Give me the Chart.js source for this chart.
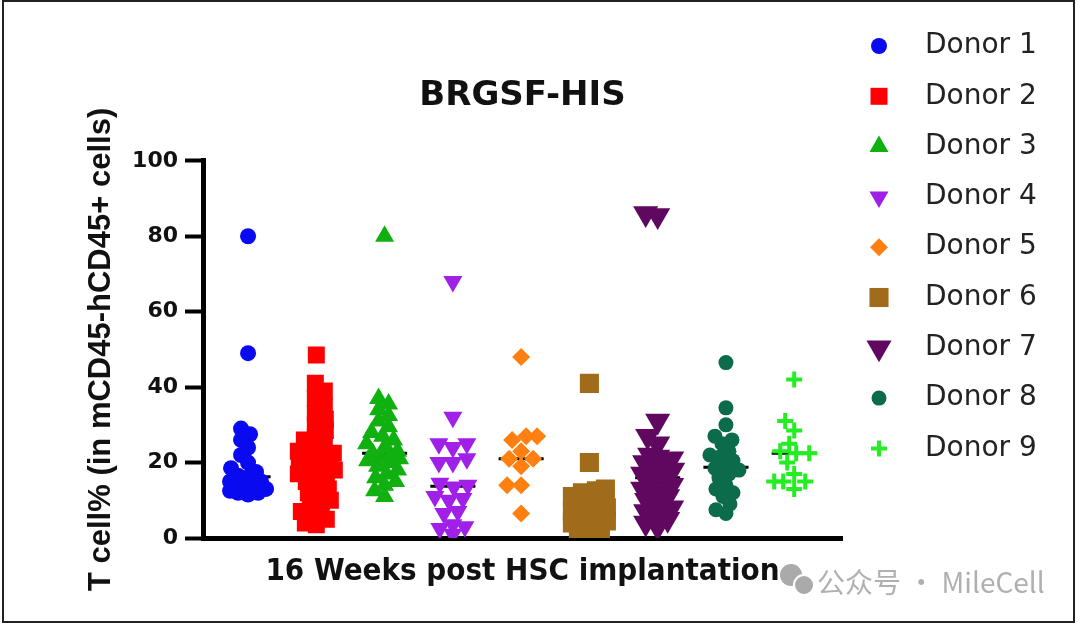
<!DOCTYPE html>
<html>
<head>
<meta charset="utf-8">
<script src="https://cdn.jsdelivr.net/npm/chart.js@4.4.1/dist/chart.umd.min.js"></script>
<style>
  html, body { margin: 0; padding: 0; background: #fff; }
  #wrap { width: 1080px; height: 626px; }
</style>
</head>
<body>
<div id="wrap"><canvas id="chart" width="1080" height="626"></canvas></div>
<script>
// values (T cell %)
const donorLabels = ['Donor 1', 'Donor 2', 'Donor 3', 'Donor 4', 'Donor 5', 'Donor 6', 'Donor 7', 'Donor 8', 'Donor 9'];
const donor1 = [80, 49, 29, 27.5, 26, 24, 22, 20, 18.5, 17.5, 16.5, 16, 15, 15, 14, 14, 13.5, 13, 12.5, 12, 12, 11.5];
const donor2 = [48.5, 41, 39, 37, 35, 33, 31.5, 30, 28.5, 27, 26, 25, 24, 23, 22.5, 22, 21, 20.5, 20, 19.5, 19, 18.5, 18, 17, 16.5, 16, 15, 14, 13, 12, 11, 10, 9, 8, 7, 6, 5, 4, 3.5];
const donor3 = [80, 37, 35.5, 34, 32.5, 31, 29.5, 28, 27, 26, 25, 24, 23, 22.5, 22, 21.5, 21, 20.5, 20, 19, 18, 17, 16, 15, 14, 12.5, 11];
const donor4 = [68, 32, 25, 25, 24, 21, 20, 20, 14.5, 14, 13.5, 11, 10.5, 10, 7, 6.5, 3.5, 3, 2.5, 1];
const donor5 = [48, 27, 27, 26, 23, 21, 21, 19, 14, 14, 6.5];
const donor6 = [41, 20, 13, 12.5, 12, 11, 10.5, 10, 9.5, 9, 8.5, 8, 8, 7.5, 7, 6, 5.5, 5, 4.5, 4, 3.5, 3, 2.5, 2, 1.5];
const donor7 = [86, 85.5, 31, 27, 25, 22, 21.5, 21, 20, 19, 18.5, 18, 17, 16, 15, 14, 13, 12, 11, 10, 9, 8, 7, 6, 5, 4, 3];
const donor8 = [46.5, 34.5, 30, 27, 26, 25, 23, 22, 21.5, 20.5, 19, 18.5, 18, 17, 16, 14, 13, 12, 11, 9, 7.5, 6.5];
const donor9 = [42, 31, 28.5, 25, 23, 22.5, 22.5, 20, 17, 15, 15, 15, 13];
const donorValues = [donor1, donor2, donor3, donor4, donor5, donor6, donor7, donor8, donor9];
const yTicks = [0, 20, 40, 60, 80, 100];

const chartTitle = 'BRGSF-HIS';
const xTitle = '16 Weeks post HSC implantation';
const yTitle = 'T cell% (in mCD45-hCD45+ cells)';
const watermark = '公众号 · MileCell';

// marker look for each donor (gap = wanted pixel distance, half = max sideways spread)
const markers = [
  { color: '#0a0af0', style: 'circle', r: 8, gap: 10, half: 18 },
  { color: '#ff0000', style: 'rect', r: 12, gap: 11, half: 18 },
  { color: '#10b010', style: 'triangle', r: 11, gap: 11, half: 18 },
  { color: '#a020e8', style: 'triangle', r: 11, rot: 180, gap: 14, half: 18 },
  { color: '#ff8010', style: 'rectRot', r: 9, gap: 14, half: 16 },
  { color: '#a06c1c', style: 'rect', r: 13.5, gap: 11, half: 17 },
  { color: '#600860', style: 'triangle', r: 14.5, rot: 180, gap: 12, half: 15 },
  { color: '#0b6b4b', style: 'circle', r: 7.5, gap: 10, half: 18 },
  { color: '#22ee22', style: 'cross', r: 8, line: 4, gap: 13, half: 20 },
];

const median = arr => {
  const s = [...arr].sort((a, b) => a - b);
  const n = s.length;
  return n % 2 ? s[(n - 1) / 2] : (s[n / 2 - 1] + s[n / 2]) / 2;
};

// scatter datasets (x gets spread out after the scales exist)
const pointSets = donorValues.map((vals, i) => {
  const m = markers[i];
  return {
    type: 'scatter',
    label: donorLabels[i],
    data: vals.map(v => ({ x: i + 1, y: v })),
    pointStyle: m.style,
    pointRadius: m.r,
    pointRotation: m.rot || 0,
    pointBackgroundColor: m.color,
    pointBorderColor: m.color,
    pointBorderWidth: m.line || 0,
    order: 0
  };
});

// short black median bars
const medianSets = donorValues.map((vals, i) => {
  const med = median(vals);
  return {
    type: 'line',
    label: 'median',
    data: [{ x: i + 1 - 0.33, y: med }, { x: i + 1 + 0.33, y: med }],
    borderColor: '#000',
    borderWidth: 3,
    pointRadius: 0,
    order: 1
  };
});

// find x offsets (pixels) so points spread a little, inside +-half
function swarm(pys, gap, half) {
  const placed = [];
  const offs = new Array(pys.length);
  const idx = pys.map((_, i) => i).sort((a, b) => pys[b] - pys[a]);
  idx.forEach(i => {
    let best = 0, bestD = -1;
    for (let k = 0; k <= half * 2; k++) {
      const off = (k % 2 === 0 ? 1 : -1) * Math.ceil(k / 2);
      let d = Infinity;
      placed.forEach(p => { d = Math.min(d, Math.hypot(p.x - off, p.y - pys[i])); });
      if (d >= gap) { best = off; bestD = d; break; }
      if (d > bestD + 0.5) { bestD = d; best = off; }
    }
    placed.push({ x: best, y: pys[i] });
    offs[i] = best;
  });
  return offs;
}

const extras = {
  id: 'extras',
  afterDraw(chart) {
    const ctx = chart.ctx;
    ctx.save();
    // legend
    donorLabels.forEach((label, i) => {
      const m = markers[i];
      const y = 46 + i * 50.3;
      ctx.fillStyle = m.color;
      ctx.strokeStyle = m.color;
      ctx.lineWidth = m.line || 0;
      Chart.helpers.drawPoint(ctx, { pointStyle: m.style, radius: m.r, rotation: m.rot || 0, borderWidth: m.line || 0 }, 879, y);
      ctx.fillStyle = '#222';
      ctx.font = '28px "DejaVu Sans"';
      ctx.textAlign = 'left';
      ctx.textBaseline = 'middle';
      ctx.fillText(label, 925, y);
    });
    // watermark
    ctx.fillStyle = '#aaaaaa';
    ctx.strokeStyle = '#fff';
    ctx.lineWidth = 2;
    ctx.beginPath(); ctx.arc(791, 575, 12, 0, Math.PI * 2); ctx.fill(); ctx.stroke();
    ctx.beginPath(); ctx.arc(804, 585, 10, 0, Math.PI * 2); ctx.fill(); ctx.stroke();
    ctx.fillStyle = '#b0b0b0';
    ctx.font = '28px "Noto Sans CJK SC"';
    ctx.fillText(watermark, 817, 582);
    // outer frame
    ctx.strokeStyle = '#222';
    ctx.lineWidth = 2;
    ctx.strokeRect(3, 1, 1071, 621);
    ctx.restore();
  }
};

const chart = new Chart(document.getElementById('chart'), {
  type: 'scatter',
  data: { datasets: [...pointSets, ...medianSets] },
  options: {
    responsive: false,
    devicePixelRatio: 1,
    animation: false,
    layout: { padding: { left: 0, right: 238, top: 0, bottom: 0 } },
    plugins: {
      legend: { display: false },
      tooltip: { enabled: false },
      title: {
        display: true,
        text: chartTitle,
        fullSize: false,
        color: '#111',
        font: { family: '"DejaVu Sans"', weight: 'bold', size: 34 },
        padding: { top: 76, bottom: 44 }
      }
    },
    scales: {
      x: {
        type: 'linear',
        min: 0.34,
        max: 9.7,
        ticks: { display: false },
        grid: { drawOnChartArea: false, drawTicks: false },
        border: { display: true, color: '#000', width: 5 },
        title: {
          display: true,
          text: xTitle,
          color: '#111',
          font: { family: '"DejaVu Sans Condensed", "DejaVu Sans"', weight: 'bold', size: 31 },
          padding: { top: 0, bottom: 35 }
        },
        afterFit: scale => { scale.height = 88; }
      },
      y: {
        min: yTicks[0],
        max: yTicks[yTicks.length - 1],
        ticks: {
          stepSize: yTicks[1] - yTicks[0],
          color: '#111',
          padding: 7,
          font: { family: '"DejaVu Sans"', weight: 'bold', size: 22 }
        },
        grid: { drawOnChartArea: false, tickLength: 18, tickWidth: 4, tickColor: '#000' },
        border: { display: true, color: '#000', width: 5 },
        title: {
          display: true,
          text: yTitle,
          color: '#111',
          font: { family: '"Liberation Sans"', weight: 'bold', size: 31 },
          padding: { top: 83, bottom: 0 }
        },
        afterFit: scale => { scale.width = 203; }
      }
    }
  },
  plugins: [extras]
});

// spread points sideways using the real scales
const xs = chart.scales.x, ys = chart.scales.y;
const pxPerUnit = xs.getPixelForValue(1) - xs.getPixelForValue(0);
donorValues.forEach((vals, i) => {
  const m = markers[i];
  const offs = swarm(vals.map(v => ys.getPixelForValue(v)), m.gap, m.half);
  chart.data.datasets[i].data = vals.map((v, j) => ({ x: i + 1 + offs[j] / pxPerUnit, y: v }));
});
chart.update('none');
</script>
</body>
</html>
